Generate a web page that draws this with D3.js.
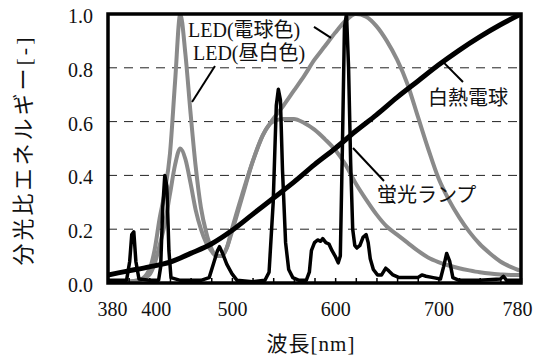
<!DOCTYPE html>
<html>
<head>
<meta charset="UTF-8">
<title>分光分布</title>
<script src="https://cdn.jsdelivr.net/npm/d3@7"></script>
<style>
    body{margin:0;background:#fff;}
    text{font-family:'Liberation Serif','Noto Sans CJK JP',serif;fill:#111;}
</style>
</head>
<body>
<div id="app"></div>
<script>
    // 軸の目盛
    var xTickLabels = [380, 400, 500, 600, 700, 780];
    var yTickLabels = [0, 0.2, 0.4, 0.6, 0.8, 1.0];

    // LED(昼白色) と LED(電球色)
    var ledNm    = [380,390,400,410,420,425,430,435,440,445,450,455,460,465,470,475,480,485,490,495,500,510,520,530,540,550,560,570,580,590,600,610,620,630,640,650,660,670,680,690,700,710,720,730,740,750,760,770,780];
    var ledDay   = [0,0,0.005,0.01,0.05,0.12,0.24,0.34,0.48,0.75,1.0,0.85,0.63,0.43,0.28,0.19,0.13,0.10,0.10,0.13,0.19,0.32,0.45,0.55,0.60,0.61,0.61,0.595,0.57,0.535,0.495,0.44,0.37,0.31,0.255,0.21,0.18,0.15,0.12,0.095,0.078,0.065,0.055,0.047,0.04,0.035,0.032,0.03,0.03];
    var ledWarm  = [0,0,0.005,0.01,0.03,0.07,0.14,0.22,0.33,0.44,0.50,0.46,0.37,0.27,0.20,0.15,0.12,0.10,0.10,0.13,0.20,0.33,0.45,0.55,0.61,0.66,0.715,0.77,0.83,0.88,0.93,0.975,1.0,0.99,0.955,0.90,0.83,0.74,0.62,0.50,0.39,0.31,0.245,0.19,0.145,0.11,0.08,0.06,0.045];

    // 白熱電球
    var incNm  = [380,400,420,440,460,480,500,520,540,560,580,600,620,640,660,680,700,720,740,760,780];
    var incVal = [0.03,0.045,0.06,0.078,0.11,0.145,0.195,0.255,0.315,0.375,0.44,0.50,0.565,0.625,0.69,0.75,0.81,0.865,0.915,0.96,1.0];

    // 蛍光ランプ
    var flNm  = [380,390,398,401,403,405,407,410,420,429,431,433,435,437,439,441,450,470,478,482,486,488,491,495,500,505,520,532,536,540,543,545,547,549,552,555,559,565,572,575,577,580,583,586,588,591,594,597,600,603,605,607,609,611,613,615,617,619,621,624,627,630,632,634,637,641,645,649,652,656,662,670,680,684,688,695,702,705,708,711,714,720,740,760,763,766,780];
    var flVal = [0.01,0.01,0.01,0.08,0.18,0.19,0.08,0.015,0.01,0.01,0.06,0.28,0.40,0.36,0.12,0.02,0.01,0.01,0.02,0.07,0.12,0.135,0.11,0.07,0.035,0.01,0.005,0.01,0.04,0.30,0.66,0.72,0.68,0.42,0.15,0.05,0.02,0.01,0.01,0.04,0.12,0.15,0.16,0.155,0.165,0.15,0.145,0.12,0.10,0.075,0.10,0.50,0.95,1.0,0.80,0.45,0.20,0.14,0.13,0.14,0.17,0.18,0.15,0.09,0.05,0.03,0.03,0.055,0.045,0.03,0.02,0.02,0.02,0.03,0.025,0.02,0.015,0.06,0.11,0.08,0.02,0.01,0.01,0.015,0.025,0.01,0.01];

    var labels = ['LED(電球色)', 'LED(昼白色)', '白熱電球', '蛍光ランプ'];

    var W = 536, H = 356;
    var L = 108, R = 521, T = 14, B = 283;
    var x = d3.scaleLinear().domain([380, 780]).range([L, R]);
    var y = d3.scaleLinear().domain([0, 1]).range([B, T]);

    var svg = d3.select('#app').append('svg')
        .attr('width', W).attr('height', H);

    svg.append('defs').append('clipPath').attr('id', 'plot')
        .append('rect').attr('x', L).attr('y', T).attr('width', R - L).attr('height', B - T);

    // 補助線
    svg.append('g').selectAll('line')
        .data(yTickLabels.filter(function(d){ return d > 0 && d < 1; }))
        .enter().append('line')
        .attr('x1', L).attr('x2', R)
        .attr('y1', function(d){ return y(d); })
        .attr('y2', function(d){ return y(d); })
        .attr('stroke', '#222').attr('stroke-width', 1)
        .attr('stroke-dasharray', '9,7');

    function pts(nm, v){ return nm.map(function(n, i){ return [n, v[i]]; }); }
    var smooth = d3.line().curve(d3.curveMonotoneX)
        .x(function(d){ return x(d[0]); }).y(function(d){ return y(d[1]); });
    var sharp = d3.line()
        .x(function(d){ return x(d[0]); }).y(function(d){ return y(d[1]); });

    var plot = svg.append('g').attr('clip-path', 'url(#plot)');
    plot.append('path').attr('d', smooth(pts(ledNm, ledDay)))
        .attr('fill', 'none').attr('stroke', '#8a8a8a').attr('stroke-width', 4).attr('stroke-linejoin', 'round');
    plot.append('path').attr('d', smooth(pts(ledNm, ledWarm)))
        .attr('fill', 'none').attr('stroke', '#8a8a8a').attr('stroke-width', 4).attr('stroke-linejoin', 'round');
    plot.append('path').attr('d', sharp(pts(flNm, flVal)))
        .attr('fill', 'none').attr('stroke', '#000').attr('stroke-width', 3.5).attr('stroke-linejoin', 'round');
    plot.append('path').attr('d', smooth(pts(incNm, incVal)))
        .attr('fill', 'none').attr('stroke', '#000').attr('stroke-width', 5);

    // 目盛(内向き)
    var minor = svg.append('g').attr('transform', 'translate(0,' + B + ')')
        .call(d3.axisBottom(x).tickValues(d3.range(380, 781, 20)).tickSize(-5).tickFormat(''));
    minor.select('.domain').remove();
    minor.selectAll('line').attr('stroke', '#000').attr('stroke-width', 1.5);

    var nudge = {380: 4, 400: 27, 780: -4};
    var xAxis = svg.append('g').attr('transform', 'translate(0,' + B + ')')
        .call(d3.axisBottom(x).tickValues(xTickLabels).tickSize(0).tickPadding(19).tickFormat(d3.format('d')));
    xAxis.select('.domain').remove();
    xAxis.selectAll('text').attr('font-size', 20).attr('font-family', null)
        .attr('dx', function(d){ return nudge[d] || 0; });

    var yAxis = svg.append('g').attr('transform', 'translate(' + L + ',0)')
        .call(d3.axisLeft(y).tickValues(yTickLabels).tickSize(0).tickPadding(15).tickFormat(d3.format('.1f')));
    yAxis.select('.domain').remove();
    yAxis.selectAll('text').attr('font-size', 20).attr('font-family', null).attr('dy', '0.42em');

    // 枠
    svg.append('rect').attr('x', L).attr('y', T).attr('width', R - L).attr('height', B - T)
        .attr('fill', 'none').attr('stroke', '#000').attr('stroke-width', 3.5);

    // 凡例(引き出し線)
    var notes = [
        {t: labels[0], at: [457.5, 0.914], from: [579.5, 0.952], to: [596, 0.911]},
        {t: labels[1], at: [462.3, 0.829], from: [483.6, 0.807], to: [461.4, 0.673]},
        {t: labels[2], at: [689.9, 0.662], from: [704.5, 0.822], to: [723.8, 0.747]},
        {t: labels[3], at: [640.5, 0.301], from: [617.3, 0.502], to: [647.3, 0.379]}
    ];
    var g = svg.append('g');
    g.selectAll('line').data(notes).enter().append('line')
        .attr('x1', function(d){ return x(d.from[0]); })
        .attr('y1', function(d){ return y(d.from[1]); })
        .attr('x2', function(d){ return x(d.to[0]); })
        .attr('y2', function(d){ return y(d.to[1]); })
        .attr('stroke', '#000').attr('stroke-width', 2);
    g.selectAll('text').data(notes).enter().append('text')
        .attr('x', function(d){ return x(d.at[0]); })
        .attr('y', function(d){ return y(d.at[1]); })
        .attr('font-size', 20)
        .text(function(d){ return d.t; });

    // 軸タイトル
    svg.append('text')
        .attr('transform', 'translate(31,150) rotate(-90)')
        .attr('text-anchor', 'middle')
        .attr('font-size', 22).attr('letter-spacing', 3)
        .text('分光比エネルギー[-]');
    svg.append('text')
        .attr('x', 311).attr('y', 351)
        .attr('text-anchor', 'middle')
        .attr('font-size', 21).attr('letter-spacing', 1)
        .text('波長[nm]');
</script>
</body>
</html>
